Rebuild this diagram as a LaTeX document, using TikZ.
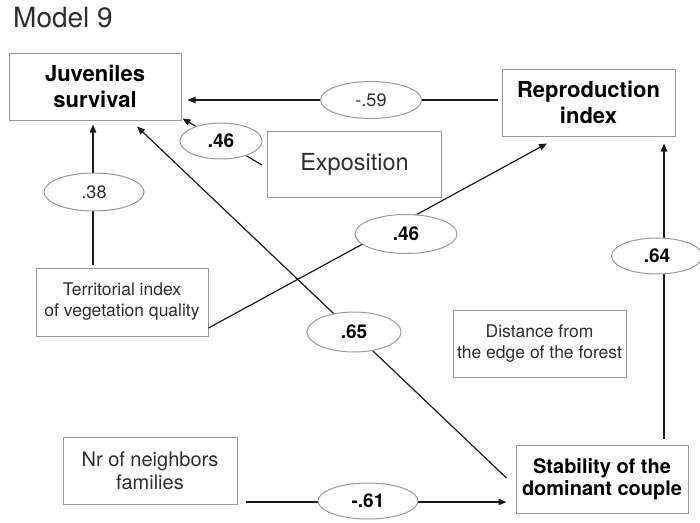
\documentclass[tikz,border=0pt]{standalone}
\usepackage{fontspec}
\setmainfont{TeX Gyre Heros}
\usetikzlibrary{shapes.geometric,arrows.meta,calc}

\definecolor{boxgray}{HTML}{9A9A9A}
\definecolor{txtgray}{HTML}{2E2E2E}
\definecolor{linecol}{HTML}{1A1A1A}

% font size with explicit baseline skip
\newcommand{\fsz}[2]{\fontsize{#1pt}{#2pt}\selectfont}

\begin{document}
\begin{tikzpicture}[x=1pt,y=-1pt,
  box/.style={rectangle, draw=boxgray, line width=1pt, inner sep=0pt,
              align=center, text=txtgray},
  boldbox/.style={box, text=black},
  lab/.style={ellipse, draw=boxgray, fill=white, line width=1pt, inner sep=0pt,
              text=txtgray},
  boldlab/.style={lab, text=black, font=\bfseries\fsz{19}{22}},
  conn/.style={draw=linecol, line width=1.2pt},
  arr/.style={conn, -{Triangle[length=8pt,width=6.5pt]}}
]
\useasboundingbox (0,0) rectangle (700,522);

% title
\node[anchor=base west, inner sep=0pt, text=txtgray, font=\fsz{28}{32}] (title) at (13,27.5) {Model 9};

% variables
\node[boldbox, minimum width=172pt, minimum height=67pt,
      font=\bfseries\fsz{22}{26}] (juv) at (95,86.5) {Juveniles\\survival};
\node[boldbox, minimum width=173pt, minimum height=67pt,
      font=\bfseries\fsz{22}{26.5}] (rep) at (588.5,102.5) {Reproduction\\index};
\node[box, minimum width=174pt, minimum height=66pt,
      font=\fsz{23.5}{28}] (expo) at (354.5,164.5) {Exposition};
\node[box, minimum width=172pt, minimum height=68pt,
      font=\fsz{17.5}{21}] (terr) at (122,302) {Territorial index\\of vegetation quality};
\node[box, minimum width=173pt, minimum height=67pt,
      font=\fsz{17.5}{21}] (dist) at (539.5,343.5) {Distance from\\the edge of the forest};
\node[box, minimum width=174pt, minimum height=67pt,
      font=\fsz{20}{23}] (nbr) at (150,470.5) {Nr of neighbors\\families};
\node[boldbox, minimum width=172pt, minimum height=68pt,
      font=\bfseries\fsz{20}{22}] (stab) at (602,479) {Stability of the\\dominant couple};

% paths
\draw[arr] ($(rep.west)+(-4,-2.5)$) -- ($(juv.east)+(6,13.5)$);
\draw[arr] ($(expo.west)+(-5,0.5)$) -- ($(juv.south east)+(1,-2)$);
\draw[arr] ($(terr.north)+(-29,-3)$) -- ($(juv.south)+(-2,4)$);
\draw[arr] ($(terr.east)+(0,26)$) -- ($(rep.south)+(-41.5,7)$);
\draw[arr] ($(stab.west)+(-9,-1)$) -- ($(juv.south)+(42,6)$);
\draw[arr] ($(stab.north)+(62,-6)$) -- ($(rep.south)+(75.5,7)$);
\draw[arr] ($(nbr.east)+(8,31.5)$) -- ($(stab.west)+(-9,23)$);

% path coefficients
\node[lab, minimum width=101pt, minimum height=37pt, font=\fsz{18}{21}] (c59) at (371,100) {-.59};
\node[boldlab, minimum width=82pt, minimum height=36pt] (c46a) at (221,141) {.46};
\node[lab, minimum width=100pt, minimum height=38pt, font=\fsz{18}{21}] (c38) at (94,192) {.38};
\node[boldlab, minimum width=102pt, minimum height=39pt] (c46b) at (406,234) {.46};
\node[boldlab, minimum width=91pt, minimum height=36pt] (c64) at (657,256) {.64};
\node[boldlab, minimum width=94pt, minimum height=40pt] (c65) at (354,332) {.65};
\node[boldlab, minimum width=100pt, minimum height=36pt] (c61) at (368,501) {-.61};
\end{tikzpicture}
\end{document}
